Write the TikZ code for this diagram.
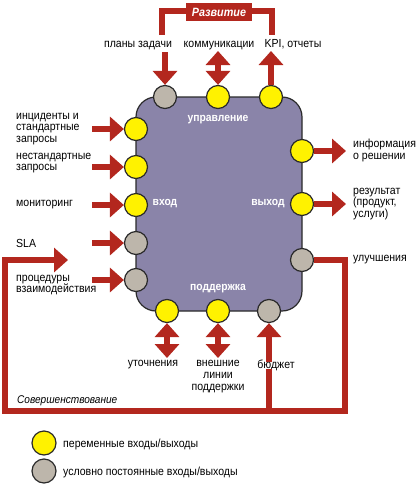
\documentclass[tikz,border=0pt]{standalone}
\usepackage{fontspec}
\setmainfont[FakeStretch=0.9]{Liberation Sans}
\usetikzlibrary{arrows.meta}
\definecolor{arrred}{HTML}{B3271E}
\definecolor{boxfill}{HTML}{8A84A9}
\definecolor{yel}{HTML}{FFF200}
\definecolor{gry}{HTML}{BDB6AB}
\definecolor{edge}{HTML}{2A2A2A}
\tikzset{
  block/.style={draw=edge, line width=1.2pt, fill=boxfill, rounded corners=20pt},
  varpt/.style={circle, draw=edge, line width=1.2pt, fill=yel, minimum size=23pt, inner sep=0pt},
  constpt/.style={circle, draw=edge, line width=1.2pt, fill=gry, minimum size=23pt, inner sep=0pt},
  arr/.style={draw=arrred, line width=6pt, -{Triangle[width=24pt,length=14pt]}},
  darr/.style={draw=arrred, line width=6pt, {Triangle[width=24pt,length=14pt]}-{Triangle[width=24pt,length=14pt]}},
  loopline/.style={draw=arrred, line width=6pt},
  lab/.style={text=black, inner sep=0pt, align=left, font=\fontsize{11.7}{11.8}\selectfont},
  clab/.style={lab, align=center},
  inlab/.style={text=white, inner sep=0pt, font=\fontsize{11.5}{12}\selectfont\bfseries}
}
\begin{document}
\begin{tikzpicture}[x=1pt,y=-1pt]
  \useasboundingbox (0,0) rectangle (419,485);

  % process block
  \draw[block] (136,97) rectangle (302,311);
  \node[inlab] (upr) at (218,120) {управление};
  \node[inlab] (vhod) at (165,204) {вход};
  \node[inlab] (vyhod) at (268,204) {выход};
  \node[inlab] (podd) at (218,289) {поддержка};

  % ports
  \foreach \n/\x/\y/\s in {t1/165/97/constpt, t2/218/97/varpt, t3/271/97/varpt,
      l1/136/129/varpt, l2/136/167/varpt, l3/136/205/varpt, l4/136/243/constpt, l5/136/280/constpt,
      r1/302/151/varpt, r2/302/204/varpt, r3/302/260/constpt,
      b1/167/311/varpt, b2/218/311/varpt, b3/269/311/constpt}{
    \node[\s] (\n) at (\x,\y) {};
  }

  % top: development
  \coordinate (devL) at (162,35);
  \coordinate (devR) at (272,35);
  \draw[loopline] (devL) -- (162,10.5) -- (272,10.5) -- (devR);
  \node[fill=arrred, text=white, minimum width=66pt, minimum height=18pt, inner sep=0pt,
    font=\fontsize{12}{12}\selectfont\bfseries\itshape] (dev) at (219,12) {Развитие};

  \node[lab, anchor=base] (plan) at (138,47) {планы задачи};
  \node[lab, anchor=base] (comm) at (219,47) {коммуникации};
  \node[lab, anchor=base] (kpi) at (293,47) {KPI, отчеты};
  \coordinate (tp1) at (165,52);
  \coordinate (tp2) at (218,51);
  \coordinate (tp3) at (271,51);
  \draw[arr] (tp1) -- (t1);
  \draw[darr] (tp2) -- (t2);
  \draw[arr] (t3) -- (tp3);

  % left: inputs
  \node[lab, anchor=west] (inc) at (16,129) {инциденты и\\стандартные\\запросы};
  \node[lab, anchor=west] (nonst) at (16,163) {нестандартные\\запросы};
  \node[lab, anchor=west] (mon) at (16,205) {мониторинг};
  \node[lab, anchor=west] (sla) at (16,243) {SLA};
  \node[lab, anchor=west] (proc) at (16,285) {процедуры\\взаимодействия};
  \foreach \p/\y in {l1/129, l2/167, l3/205, l4/243, l5/280}{
    \coordinate (s\p) at (92,\y);
    \draw[arr] (s\p) -- (\p);
  }

  % right: outputs
  \node[lab, anchor=west] (info) at (353,150.5) {информация\\о решении};
  \node[lab, anchor=west] (res) at (353,204) {результат\\(продукт,\\услуги)};
  \node[lab, anchor=west] (impr) at (353,260) {улучшения};
  \coordinate (e1) at (346,151);
  \coordinate (e2) at (346,204);
  \draw[arr] (r1) -- (e1);
  \draw[arr] (r2) -- (e2);

  % bottom: support
  \node[lab, anchor=north] (utoch) at (153,360) {уточнения};
  \node[clab, anchor=north] (ext) at (218,360) {внешние\\линии\\поддержки};
  \node[lab, anchor=north] (budget) at (276,360) {бюджет};
  \coordinate (bp1) at (167,358);
  \coordinate (bp2) at (218,358);
  \draw[darr] (bp1) -- (b1);
  \draw[darr] (bp2) -- (b2);

  % improvement loop
  \coordinate (fb) at (68,260);
  \draw[loopline, line join=miter] (r3) -- (345,260) -- (345,411) -- (5,411) -- (5,260) -- (55,260);
  \draw[arr] (54,260) -- (fb);
  \coordinate (bf) at (269,411);
  \draw[loopline] (bf) -- ([yshift=2pt]budget.south -| b3);
  \draw[arr] ([yshift=-2pt]budget.north -| b3) -- (b3);
  \node[lab, anchor=base west, font=\fontsize{11.2}{12}\selectfont\itshape] (sov) at (17,403) {Совершенствование};

  % legend
  \node[varpt, minimum size=24pt] (kv) at (44,443) {};
  \node[constpt, minimum size=24pt] (kc) at (44,471) {};
  \node[lab, anchor=west] (kvt) at (63,444) {переменные входы/выходы};
  \node[lab, anchor=west] (kct) at (63,472) {условно постоянные входы/выходы};
\end{tikzpicture}
\end{document}
